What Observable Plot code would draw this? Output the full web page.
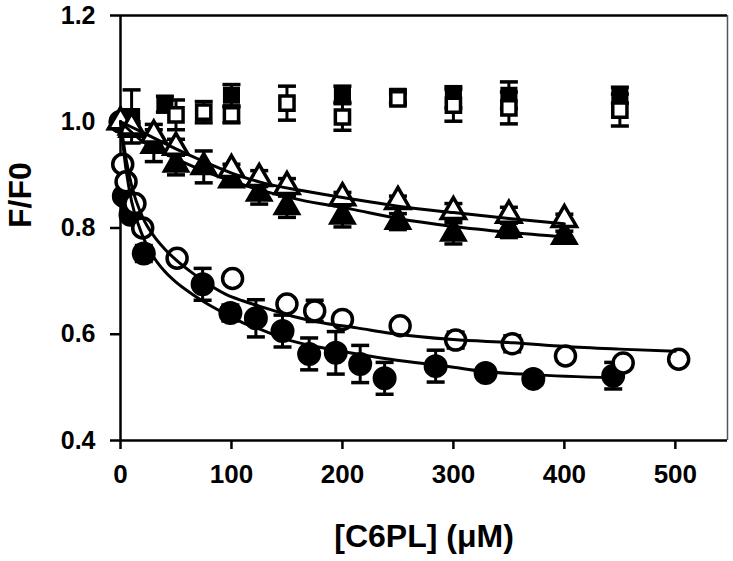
<!DOCTYPE html>
<html>
<head>
<meta charset="utf-8">
<script src="https://cdn.jsdelivr.net/npm/d3@7"></script>
<script src="https://cdn.jsdelivr.net/npm/@observablehq/plot@0.6"></script>
<style>
  html, body { margin: 0; padding: 0; background: #fff; }
</style>
</head>
<body>
<div id="chart"></div>
<script>
// ---- Data ----
const xTicks = [0, 100, 200, 300, 400, 500];
const yTicks = [0.4, 0.6, 0.8, 1.0, 1.2];

// filled squares
const sqFillX = [10, 40, 100, 200, 250, 300, 350, 450];
const sqFillY = [1.01, 1.033, 1.05, 1.052, 1.048, 1.046, 1.05, 1.05];
const sqFillE = [0.05, 0.015, 0.02, 0.015, 0.012, 0.02, 0.025, 0.015];
// open squares
const sqOpenX = [50, 75, 100, 150, 200, 250, 300, 350, 450];
const sqOpenY = [1.013, 1.018, 1.013, 1.035, 1.009, 1.043, 1.031, 1.026, 1.022];
const sqOpenE = [0.028, 0.02, 0.015, 0.032, 0.025, 0.01, 0.03, 0.03, 0.03];
// open triangles
const triOpenX = [0, 10, 30, 50, 100, 125, 150, 200, 250, 300, 350, 400];
const triOpenY = [1.0, 0.99, 0.975, 0.952, 0.91, 0.893, 0.878, 0.857, 0.85, 0.831, 0.824, 0.816];
const triOpenE = [0.01, 0.01, 0.02, 0.015, 0.01, 0.015, 0.015, 0.01, 0.01, 0.015, 0.015, 0.01];
// filled triangles
const triFillX = [0, 10, 30, 50, 75, 100, 125, 150, 200, 250, 300, 350, 400];
const triFillY = [1.0, 0.985, 0.955, 0.92, 0.915, 0.89, 0.865, 0.84, 0.822, 0.812, 0.79, 0.797, 0.784];
const triFillE = [0.01, 0.01, 0.03, 0.02, 0.03, 0.01, 0.02, 0.02, 0.02, 0.015, 0.02, 0.015, 0.01];
// open circles
const cirOpenX = [0, 2, 5, 13, 20, 51, 101, 150, 175, 200, 252, 302, 353, 401, 453, 503];
const cirOpenY = [1.0, 0.92, 0.887, 0.846, 0.8, 0.743, 0.705, 0.657, 0.644, 0.628, 0.616, 0.589, 0.582, 0.559, 0.546, 0.553];
const cirOpenE = [0, 0.01, 0.01, 0.01, 0.01, 0.01, 0.01, 0.01, 0.02, 0.01, 0.01, 0.015, 0.015, 0.01, 0.01, 0.01];
// filled circles
const cirFillX = [0, 3, 9, 21, 74, 99, 122, 146, 170, 194, 216, 238, 284, 329, 372, 444];
const cirFillY = [1.0, 0.86, 0.825, 0.752, 0.694, 0.64, 0.63, 0.606, 0.563, 0.565, 0.544, 0.517, 0.54, 0.527, 0.516, 0.522];
const cirFillE = [0, 0.01, 0.01, 0.015, 0.03, 0.015, 0.035, 0.03, 0.03, 0.04, 0.035, 0.03, 0.03, 0.01, 0.01, 0.025];

// fitted curves
const fitTriOpenX = [0, 20, 50, 72, 102, 132, 162, 207, 250, 300, 350, 400];
const fitTriOpenY = [1.0, 0.98, 0.949, 0.928, 0.902, 0.883, 0.871, 0.855, 0.841, 0.829, 0.818, 0.808];
const fitTriFillX = [0, 18, 50, 72, 102, 132, 162, 207, 250, 300, 350, 400];
const fitTriFillY = [1.0, 0.966, 0.93, 0.91, 0.887, 0.868, 0.853, 0.836, 0.818, 0.803, 0.792, 0.783];
const fitCirOpenX = [0, 5, 10, 20, 30, 40, 50, 65, 80, 95, 110, 125, 155, 183, 213, 243, 300, 354, 400, 450, 500];
const fitCirOpenY = [1.0, 0.93, 0.88, 0.82, 0.785, 0.76, 0.74, 0.715, 0.693, 0.675, 0.663, 0.653, 0.634, 0.621, 0.612, 0.602, 0.59, 0.584, 0.577, 0.572, 0.568];
const fitCirFillX = [0, 5, 10, 20, 30, 40, 50, 65, 80, 95, 110, 125, 155, 183, 213, 243, 300, 324, 370, 445];
const fitCirFillY = [1.0, 0.91, 0.85, 0.785, 0.745, 0.718, 0.698, 0.675, 0.655, 0.638, 0.622, 0.61, 0.587, 0.574, 0.563, 0.553, 0.538, 0.531, 0.524, 0.518];

const xLabel = "[C6PL] (\u03bcM)";
const yLabel = "F/F0";

// ---- build tables ----
const pts = (xs, ys, es) => xs.map((x, i) => ({x, y: ys[i], e: es[i]}));
const line = (xs, ys) => xs.map((x, i) => ({x, y: ys[i]}));

const sqFill = pts(sqFillX, sqFillY, sqFillE);
const sqOpen = pts(sqOpenX, sqOpenY, sqOpenE);
const triOpen = pts(triOpenX, triOpenY, triOpenE);
const triFill = pts(triFillX, triFillY, triFillE);
const cirOpen = pts(cirOpenX, cirOpenY, cirOpenE);
const cirFill = pts(cirFillX, cirFillY, cirFillE);
const allPts = [...sqFill, ...sqOpen, ...triOpen, ...triFill, ...cirOpen, ...cirFill].filter(d => d.e > 0);

const capSymbol = { draw(ctx, size) { ctx.moveTo(-9, 0); ctx.lineTo(9, 0); } };

const errMarks = (data) => [
  Plot.ruleX(data, {x: "x", y1: d => d.y - d.e, y2: d => d.y + d.e, stroke: "black", strokeWidth: 3}),
  Plot.dot(data, {x: "x", y: d => d.y + d.e, symbol: capSymbol, stroke: "black", strokeWidth: 3.5, fill: "none"}),
  Plot.dot(data, {x: "x", y: d => d.y - d.e, symbol: capSymbol, stroke: "black", strokeWidth: 3.5, fill: "none"})
];

const chart = Plot.plot({
  width: 733,
  height: 561,
  marginLeft: 120,
  marginRight: 6,
  marginTop: 15,
  marginBottom: 121,
  x: {domain: [0, 547]},
  y: {domain: [0.4, 1.2]},
  style: {fontFamily: "'Liberation Sans', Arial, sans-serif", fontWeight: "bold", background: "white", color: "black"},
  marks: [
    Plot.axisX({ticks: xTicks, tickSize: 9, tickPadding: 15, fontSize: 26, label: null, tickFormat: d => String(d), strokeWidth: 2.5}),
    Plot.axisY({ticks: yTicks, tickSize: 10, tickPadding: 15, fontSize: 25, label: null, tickFormat: d => d.toFixed(1), strokeWidth: 2.5}),
    Plot.ruleY([1.2], {stroke: "black", strokeWidth: 2.5}),
    Plot.ruleX([547], {stroke: "#555", strokeWidth: 1.5}),
    Plot.ruleX([0], {stroke: "black", strokeWidth: 2.5}),
    Plot.ruleY([0.4], {stroke: "black", strokeWidth: 2.5}),
    ...errMarks(allPts),
    Plot.dot(sqFill, {x: "x", y: "y", symbol: "square", r: 8.5, fill: "black", stroke: "black", strokeWidth: 2}),
    Plot.dot(sqOpen, {x: "x", y: "y", symbol: "square", r: 8, fill: "white", stroke: "black", strokeWidth: 3.5}),
    Plot.dot(cirFill, {x: "x", y: "y", r: 11, fill: "black", stroke: "black", strokeWidth: 2}),
    Plot.dot(cirOpen, {x: "x", y: "y", r: 10, fill: "white", stroke: "black", strokeWidth: 3.5}),
    Plot.dot(triFill, {x: "x", y: "y", symbol: "triangle", r: 9.5, fill: "black", stroke: "black", strokeWidth: 2}),
    Plot.dot(triOpen, {x: "x", y: "y", symbol: "triangle", r: 9, fill: "white", stroke: "black", strokeWidth: 3.5}),
    Plot.line(line(fitTriOpenX, fitTriOpenY), {x: "x", y: "y", curve: "monotone-x", stroke: "black", strokeWidth: 3}),
    Plot.line(line(fitTriFillX, fitTriFillY), {x: "x", y: "y", curve: "monotone-x", stroke: "black", strokeWidth: 3}),
    Plot.line(line(fitCirOpenX, fitCirOpenY), {x: "x", y: "y", curve: "monotone-x", stroke: "black", strokeWidth: 3}),
    Plot.line(line(fitCirFillX, fitCirFillY), {x: "x", y: "y", curve: "monotone-x", stroke: "black", strokeWidth: 3}),
    Plot.text([xLabel], {frameAnchor: "bottom", dy: 106, fontSize: 32, fontWeight: "bold", fill: "black"}),
    Plot.text([yLabel], {frameAnchor: "left", dx: -100, rotate: -90, fontSize: 32, fontWeight: "bold", fill: "black"})
  ]
});
document.getElementById("chart").append(chart);
</script>
</body>
</html>
